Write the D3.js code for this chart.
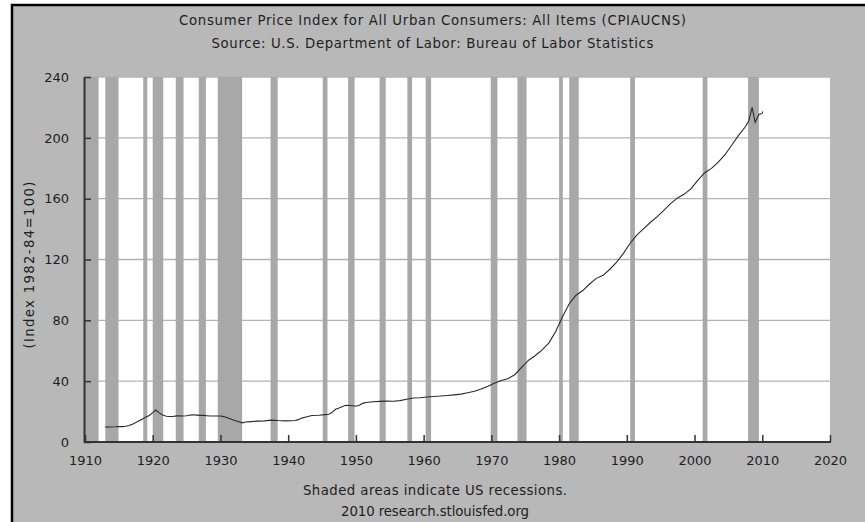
<!DOCTYPE html>
<html>
<head>
<meta charset="utf-8">
<script src="https://cdnjs.cloudflare.com/ajax/libs/d3/7.8.5/d3.min.js"></script>
<style>
  html, body { margin: 0; padding: 0; background: #ffffff; }
  svg { display: block; }
  text { font-family: "DejaVu Sans", Verdana, sans-serif; fill: #1e1e1e; }
</style>
</head>
<body>
<svg id="chart" width="865" height="522"></svg>
<script>
// ---- Data ----
const titleLines = [
  "Consumer Price Index for All Urban Consumers: All Items (CPIAUCNS)",
  "Source: U.S. Department of Labor: Bureau of Labor Statistics"
];
const footerLines = [
  "Shaded areas indicate US recessions.",
  "2010 research.stlouisfed.org"
];
const yAxisLabel = "(Index 1982-84=100)";
const xTicks = [1910, 1920, 1930, 1940, 1950, 1960, 1970, 1980, 1990, 2000, 2010, 2020];
const yTicks = [0, 40, 80, 120, 160, 200, 240];

// recession periods (start, end) in decimal years
const recessionStarts = [1910.0, 1913.0, 1918.6, 1920.0, 1923.4, 1926.8, 1929.6, 1937.4, 1945.1, 1948.85, 1953.5, 1957.6, 1960.3, 1969.9, 1973.85, 1980.0, 1981.5, 1990.5, 2001.2, 2007.9];
const recessionEnds   = [1912.0, 1914.95, 1919.2, 1921.55, 1924.55, 1927.85, 1933.2, 1938.45, 1945.8, 1949.8, 1954.4, 1958.3, 1961.1, 1970.9, 1975.2, 1980.55, 1982.9, 1991.2, 2001.9, 2009.5];

// CPI series: dates (decimal year) and values
const cpiDates = [
  1913.0, 1913.5, 1914.5, 1915.0, 1915.5, 1916.0, 1916.5, 1917.0, 1917.5, 1918.0,
  1918.5, 1919.0, 1919.5, 1920.0, 1920.45, 1921.0, 1921.5, 1922.0, 1922.5, 1923.0,
  1923.5, 1924.5, 1925.0, 1925.5, 1926.0, 1926.5, 1927.0, 1927.5, 1928.0, 1928.5,
  1929.5, 1930.0, 1930.5, 1931.0, 1931.5, 1932.0, 1932.5, 1933.2, 1933.7, 1934.5,
  1935.5, 1936.5, 1937.5, 1938.5, 1939.5, 1940.5, 1941.0, 1941.5, 1942.0, 1942.5,
  1943.5, 1944.5, 1945.5, 1946.0, 1946.5, 1947.0, 1947.5, 1948.5, 1949.0, 1949.5,
  1950.0, 1950.5, 1951.0, 1951.5, 1952.5, 1953.5, 1954.5, 1955.5, 1956.5, 1957.5,
  1958.5, 1959.5, 1960.5, 1961.5, 1962.5, 1963.5, 1964.5, 1965.5, 1966.5, 1967.5,
  1968.5, 1969.5, 1970.5, 1971.5, 1972.5, 1973.5, 1974.5, 1975.5, 1976.5, 1977.5,
  1978.5, 1979.5, 1980.5, 1981.5, 1982.5, 1983.5, 1984.5, 1985.5, 1986.5, 1987.5,
  1988.5, 1989.5, 1990.5, 1991.5, 1992.5, 1993.5, 1994.5, 1995.5, 1996.5, 1997.5,
  1998.5, 1999.5, 2000.5, 2001.5, 2002.5, 2003.5, 2004.5, 2005.5, 2006.5, 2007.5,
  2008.0, 2008.5, 2008.95, 2009.5, 2009.95, 2010.1
];
const cpiValues = [
  9.8, 9.9, 10.0, 10.1, 10.1, 10.4, 10.9, 11.7, 12.8, 14.0,
  15.1, 16.5, 17.4, 19.3, 21.0, 19.0, 17.7, 16.9, 16.8, 16.8,
  17.2, 17.1, 17.3, 17.7, 17.9, 17.7, 17.5, 17.5, 17.3, 17.1,
  17.1, 17.1, 16.7, 15.9, 15.1, 14.3, 13.6, 12.6, 13.2, 13.4,
  13.7, 13.9, 14.4, 14.1, 13.9, 14.0, 14.1, 14.7, 15.7, 16.3,
  17.4, 17.6, 18.0, 18.2, 19.5, 21.5, 22.3, 24.1, 24.0, 23.8,
  23.5, 24.1, 25.4, 26.0, 26.5, 26.7, 26.9, 26.8, 27.2, 28.1,
  28.9, 29.1, 29.6, 29.9, 30.2, 30.6, 31.0, 31.5, 32.4, 33.4,
  34.8, 36.7, 38.8, 40.5, 41.8, 44.4, 49.3, 53.8, 56.9, 60.6,
  65.2, 72.6, 82.4, 90.9, 96.5, 99.6, 103.9, 107.6, 109.6, 113.6,
  118.3, 124.0, 130.7, 136.2, 140.3, 144.5, 148.2, 152.4, 156.9, 160.5,
  163.0, 166.6, 172.2, 177.1, 179.9, 184.0, 188.9, 195.3, 201.6, 207.3,
  211.1, 220.0, 210.2, 215.4, 215.9, 217.3
];

// ---- Drawing ----
const svg = d3.select("#chart");
const W = 865, H = 522;

// outer frame
svg.append("rect").attr("x", 12).attr("y", 5).attr("width", W - 12).attr("height", H - 5)
  .attr("fill", "#b8b8b8");
svg.append("line").attr("x1", 12).attr("x2", 12).attr("y1", 4).attr("y2", H)
  .attr("stroke", "#000").attr("stroke-width", 2.5);
svg.append("line").attr("x1", 11).attr("x2", W).attr("y1", 5).attr("y2", 5)
  .attr("stroke", "#000").attr("stroke-width", 2.5);

const x = d3.scaleLinear().domain([1910, 2020]).range([85, 830]);
const y = d3.scaleLinear().domain([0, 240]).range([442, 77]);

// plot background
svg.append("rect")
  .attr("x", x(1910)).attr("y", y(240))
  .attr("width", x(2020) - x(1910)).attr("height", y(0) - y(240))
  .attr("fill", "#ffffff");

// horizontal gridlines
svg.append("g").selectAll("line").data(yTicks.filter(d => d > 0)).join("line")
  .attr("x1", x(1910)).attr("x2", x(2020))
  .attr("y1", d => y(d)).attr("y2", d => y(d))
  .attr("stroke", "#b4b4b4").attr("stroke-width", 1.3);

// recession bands
const recessions = recessionStarts.map((s, i) => ({ s, e: recessionEnds[i] }));
svg.append("g").selectAll("rect").data(recessions).join("rect")
  .attr("x", d => x(d.s)).attr("y", y(240))
  .attr("width", d => x(d.e) - x(d.s)).attr("height", y(0) - y(240))
  .attr("fill", "#a8a8a8");

// series line
const series = cpiDates.map((d, i) => [d, cpiValues[i]]);
svg.append("path").datum(series)
  .attr("fill", "none").attr("stroke", "#2a2a2a").attr("stroke-width", 1.1)
  .attr("d", d3.line().x(d => x(d[0])).y(d => y(d[1])));

// axes
const xAxis = d3.axisBottom(x).tickValues(xTicks).tickFormat(d3.format("d"))
  .tickSizeInner(-7).tickSizeOuter(0).tickPadding(14);
const gx = svg.append("g").attr("transform", `translate(0,${y(0)})`).call(xAxis);
gx.select(".domain").attr("stroke", "#333").attr("stroke-width", 2)
  .attr("d", `M${x(1910) - 1},0H${x(2020) + 1}`);
gx.selectAll(".tick line").attr("stroke", "#333").attr("stroke-width", 1.5);
gx.selectAll(".tick text").attr("font-size", 13).attr("fill", "#1e1e1e")
  .attr("font-family", "DejaVu Sans, sans-serif");

const yAxis = d3.axisLeft(y).tickValues(yTicks).tickFormat(d3.format("d"))
  .tickSizeInner(-7).tickSizeOuter(0).tickPadding(15);
const gy = svg.append("g").attr("transform", `translate(${x(1910) - 1},0)`).call(yAxis);
gy.select(".domain").attr("stroke", "#333").attr("stroke-width", 2);
gy.selectAll(".tick line").attr("stroke", "#333").attr("stroke-width", 1.5);
gy.selectAll(".tick text").attr("font-size", 13).attr("fill", "#1e1e1e")
  .attr("font-family", "DejaVu Sans, sans-serif");

// titles (widths matched to the reference with letter spacing)
const titleWidths = [507, 442];
svg.append("g").selectAll("text").data(titleLines).join("text")
  .attr("x", 432.5).attr("y", (d, i) => 25 + i * 23)
  .attr("text-anchor", "middle").attr("font-size", 13.3)
  .attr("textLength", (d, i) => titleWidths[i]).attr("lengthAdjust", "spacing")
  .text(d => d);

const footerWidths = [264, 188];
svg.append("g").selectAll("text").data(footerLines).join("text")
  .attr("x", 435).attr("y", (d, i) => 495 + i * 21)
  .attr("text-anchor", "middle").attr("font-size", 13.3)
  .attr("textLength", (d, i) => footerWidths[i]).attr("lengthAdjust", "spacing")
  .text(d => d);

svg.append("text")
  .attr("transform", "translate(34,265) rotate(-90)")
  .attr("text-anchor", "middle").attr("font-size", 13.3)
  .attr("textLength", 167).attr("lengthAdjust", "spacing")
  .text(yAxisLabel);
</script>
</body>
</html>
